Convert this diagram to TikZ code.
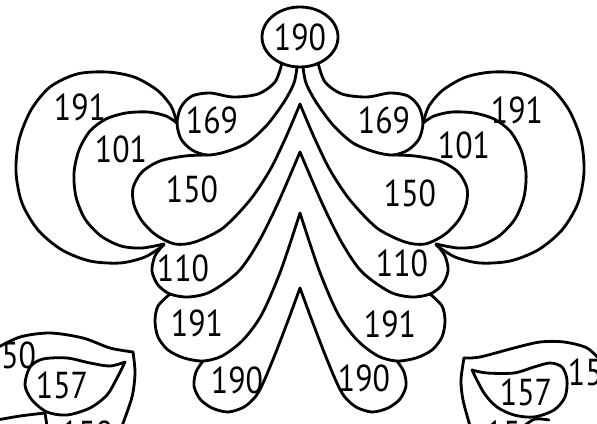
\documentclass[tikz,border=0pt]{standalone}
\usepackage{fontspec}
\setmainfont{PT Sans}[FakeStretch=0.85]
\usetikzlibrary{shapes.geometric}

\tikzset{
  pen/.style={line width=2.4pt, line cap=round, line join=round},
  num/.style={font=\fontsize{32}{34}\selectfont, inner sep=0pt},
}

\begin{document}
\begin{tikzpicture}[x=0.03cm, y=-0.03cm]

\useasboundingbox (0,0) rectangle (597,423);
\clip (0,0) rectangle (597,423);

% one half of the ornament, the other half is its mirror image
\def\halfornament{
  % 169 drop
  \draw[pen] plot[smooth] coordinates {(282,63) (275,82) (258,94) (233,97) (210,93) (192,96) (181,107) (177,123) (181,139) (192,150) (207,155) (225,152) (247,143) (267,125) (284,102) (294,83) (297,67)};
  % 150 drop
  \draw[pen] plot[smooth] coordinates {(207,155) (185,156) (160,161) (142,172) (133,188) (134,205) (142,221) (156,235) (175,244) (195,242) (223,228) (250,200) (270,170) (286,137) (300,104)};
  % 110 drop
  \draw[pen] plot[smooth] coordinates {(164,244) (155,256) (152,271) (158,285) (170,294) (188,297) (210,292) (238,272) (258,243) (278,203) (300,152)};
  % 191 drop
  \draw[pen] plot[smooth] coordinates {(170,294) (158,306) (155,321) (158,337) (168,350) (184,358) (203,361) (222,356) (243,340) (262,314) (281,270) (300,213)};
  % 190 drop
  \draw[pen] plot[smooth] coordinates {(203,361) (196,372) (194,386) (200,399) (212,408) (228,412) (244,407) (256,396) (264,381) (276,352) (289,318) (300,288)};
  % outer loop 191
  \draw[pen] plot[smooth] coordinates {(177,123) (171,106) (157,90) (134,77) (107,72) (77,74) (50,87) (31,110) (19,140) (16,172) (22,203) (38,230) (62,250) (90,261) (120,263) (145,257) (164,245)};
  % loop 101
  \draw[pen] plot[smooth] coordinates {(177,123) (166,116) (148,112) (126,113) (106,119) (90,131) (79,150) (74,173) (76,197) (85,219) (101,236) (121,246) (142,248) (164,244)};
}

\halfornament
\begin{scope}[shift={(600,0)}, xscale=-1]
  \halfornament
\end{scope}

% top cell
\node[pen, draw, ellipse, minimum width=2.28cm, minimum height=1.8cm, num] (top190) at (300,37) {190};

% labels, left side
\node[num] (l191)  at (80,107)  {191};
\node[num] (l101)  at (121,149) {101};
\node[num] (l169)  at (212,120) {169};
\node[num] (l150)  at (192,189) {150};
\node[num] (l110)  at (183,268) {110};
\node[num] (l191b) at (197,323) {191};
\node[num] (l190)  at (237,380) {190};

% labels, right side
\node[num] (r169)  at (384,120) {169};
\node[num] (r191)  at (517,110) {191};
\node[num] (r101)  at (464,145) {101};
\node[num] (r150)  at (410,193) {150};
\node[num] (r110)  at (402,263) {110};
\node[num] (r191b) at (390,324) {191};
\node[num] (r190)  at (364,378) {190};

% corner pieces, bottom left
\draw[pen] plot[smooth] coordinates {(-5,349) (20,337) (50,333) (83,338) (110,348) (133,352)};
\draw[pen] plot[smooth] coordinates {(133,352) (135,373) (132,397) (122,426)};
\draw[pen] plot[smooth] coordinates {(125,362) (110,366) (90,363) (67,358) (43,359) (30,367) (25,385) (32,400) (47,412) (67,415) (90,408) (107,395) (117,378) (125,362)};
\draw[pen] plot[smooth] coordinates {(-3,420) (20,416) (45,413)};
\draw[pen] (45,413) -- (47,426);
\node[num] (bl150)  at (10,355)  {150};
\node[num] (bl157)  at (62,385)  {157};
\node[num] (bl150b) at (87,434)  {150};

% corner pieces, bottom right
\draw[pen] plot[smooth] coordinates {(602,362) (587,348) (564,342) (540,342) (514,348) (480,357) (464,358)};
\draw[pen] plot[smooth] coordinates {(464,358) (461,380) (463,400) (470,426)};
\draw[pen] plot[smooth] coordinates {(472,370) (487,373) (514,373) (534,367) (550,363) (562,367) (567,380) (565,397) (554,410) (534,417) (514,415) (497,407) (484,393) (472,370)};
\draw[pen] plot[smooth] coordinates {(524,426) (535,419) (549,420)};
\node[num] (br150)  at (594,372) {150};
\node[num] (br157)  at (526,392) {157};
\node[num] (br150b) at (503,434) {15};

\end{tikzpicture}
\end{document}
